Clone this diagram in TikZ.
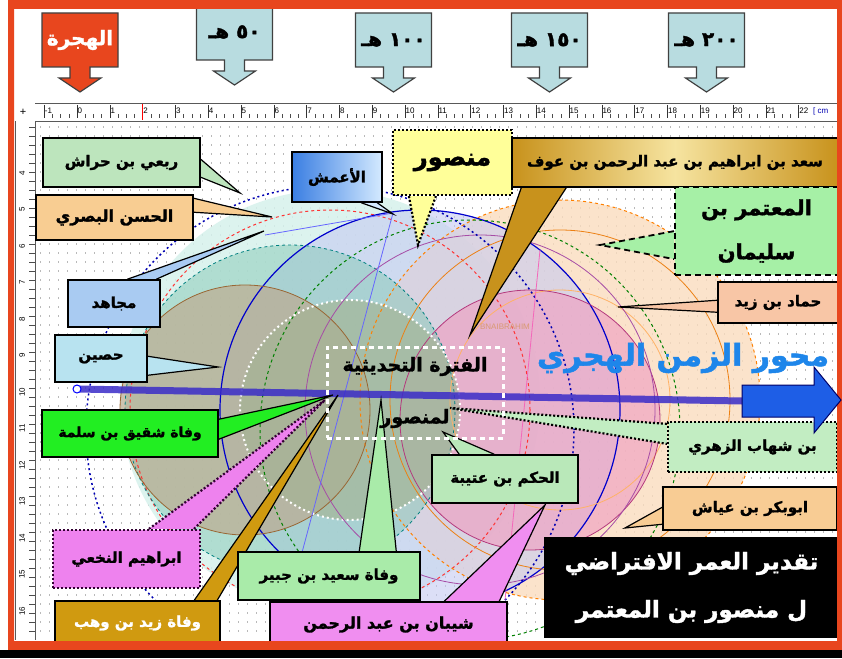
\documentclass[tikz,border=0pt]{standalone}
\usepackage{fontspec}
\setmainfont{Liberation Sans}
\newfontfamily\arfont[Script=Arabic, BoldFeatures={FakeBold=1.6}]{DejaVu Sans}
\TeXXeTstate=1
\usetikzlibrary{calc}
\pgfdeclarelayer{bg}
\pgfdeclarelayer{wedge}
\pgfsetlayers{bg,wedge,main}
\newcommand{\AR}[1]{{\arfont\bfseries\beginR #1\endR}}
\definecolor{framered}{HTML}{E8461E}
\definecolor{hjblue}{HTML}{B8DCE0}
\definecolor{cRabi}{HTML}{BDE5BD}
\definecolor{cHasan}{HTML}{F8CD92}
\definecolor{cMuj}{HTML}{A9CBF2}
\definecolor{cHus}{HTML}{B8E3F0}
\definecolor{cShaq}{HTML}{22EE22}
\definecolor{cNakh}{HTML}{EE82EE}
\definecolor{cZayd}{HTML}{D09A10}
\definecolor{cSaeed}{HTML}{A9EBA9}
\definecolor{cShay}{HTML}{F08EF0}
\definecolor{cHakam}{HTML}{B9E8B9}
\definecolor{cZuhri}{HTML}{C2EDC2}
\definecolor{cAbu}{HTML}{F8CC94}
\definecolor{cMansur}{HTML}{FFFF99}
\definecolor{cSaadE}{HTML}{C8921C}
\definecolor{cSaadM}{HTML}{F6E4A0}
\definecolor{cMut}{HTML}{A6F0A6}
\definecolor{cHam}{HTML}{F8C6A6}
\definecolor{cAmL}{HTML}{3A7EE2}
\definecolor{cAmR}{HTML}{D4EAFF}
\definecolor{cMehwar}{HTML}{1E86EA}
\definecolor{cBigArrow}{HTML}{1E5EE6}
\definecolor{cAxis}{HTML}{3A2CC8}
\definecolor{cPale}{HTML}{D6F1EC}
\definecolor{cPeach}{HTML}{FBDDBF}
\definecolor{cLav}{HTML}{C6CAF2}
\definecolor{cPink}{HTML}{EFA0C2}
\definecolor{cTeal}{HTML}{86C9B6}
\definecolor{cTan}{HTML}{C29E7E}
\definecolor{cGG}{HTML}{A3B393}
\newcommand{\hjarrow}[7]{%
  \draw[hjline, fill=#5] (#2-38,#3) -- (#2+38,#3) -- (#2+38,#4) -- (#2+10,#4) -- (#2+10,#4+11) -- (#2+21,#4+11) -- (#2,#4+25) -- (#2-21,#4+11) -- (#2-10,#4+11) -- (#2-10,#4) -- (#2-38,#4) -- cycle;
  \node[text=#7, inner sep=0pt] (#1) at (#2,{(#3+#4)/2}) {#6};}
\begin{document}
\begin{tikzpicture}[x=1pt,y=-1pt,
  lbl/.style={draw=black, line width=1.5pt, inner sep=2pt, align=center, font=\fontsize{15}{18}\selectfont},
  wdg/.style={draw=black, line width=1.2pt, line join=miter},
  dotb/.style={dash pattern=on 2pt off 2pt, line width=2.2pt},
  dashb/.style={dash pattern=on 6pt off 4pt, line width=1.8pt},
  griddots/.style={gray!55, line width=1.1pt, dash pattern=on 1.1pt off 7.9pt},
  hjline/.style={draw=black!75, line width=1.2pt, line join=miter}]
\useasboundingbox (0,0) rectangle (842,658);

\begin{pgfonlayer}{bg}
\fill[white] (0,0) rectangle (842,658);
\foreach \yy in {127,136,...,636} \draw[griddots] (40,\yy) -- (836,\yy);
\begin{scope}
\clip (36,121) rectangle (837,640);
\fill[cPale, fill opacity=.85] (330,400) circle[radius=210pt];
\fill[cPeach, fill opacity=.8] (560,400) circle[radius=200pt];
\fill[cLav, fill opacity=.6] (420,410) circle[radius=200pt];
\fill[cPink, fill opacity=.65] (530,420) circle[radius=130pt];
\fill[cTeal, fill opacity=.5] (290,410) circle[radius=165pt];
\fill[cTan, fill opacity=.55] (245,410) circle[radius=125pt];
\fill[cGG, fill opacity=.65] (350,410) circle[radius=110pt];
\draw[red!80, dashed, line width=1pt] (330,410) circle[radius=200pt];
\draw[blue!80!black, line width=1.2pt] (420,410) circle[radius=200pt];
\draw[orange, dashed, line width=1pt] (560,400) circle[radius=200pt];
\draw[orange!70!brown, line width=.8pt] (560,400) circle[radius=170pt];
\draw[orange!60, line width=.8pt] (560,400) circle[radius=110pt];
\draw[green!50!black, dashed, line width=1pt] (470,430) circle[radius=210pt];
\draw[magenta!70!black, line width=.8pt] (530,420) circle[radius=130pt];
\draw[teal, dashed, line width=.8pt] (290,410) circle[radius=165pt];
\draw[brown!80!black, line width=.8pt] (245,410) circle[radius=125pt];
\draw[white, line width=2pt, dash pattern=on 2pt off 3pt] (350,410) circle[radius=110pt];
\draw[violet!70, line width=.8pt] (480,410) circle[radius=175pt];
\draw[blue!70!black, line width=1.5pt, dash pattern=on 2pt off 3pt] (330,430) circle[radius=244pt];
\draw[blue!60, line width=.8pt] (393,213) -- (300,560);
\draw[blue!60, line width=.8pt] (393,213) -- (265,235);
\draw[magenta!60, line width=.8pt] (540,250) -- (505,600);
\end{scope}
\node[text=brown!60!pink, font=\fontsize{8}{9}\selectfont] (bnai) at (505,327) {BNAIBRAHIM};
\coordinate (axL) at (77,389);
\coordinate (axR) at (742,401);
\draw[line width=7pt, cAxis, opacity=.85] (axL) -- (axR);
\filldraw[fill=white, draw=blue, line width=1pt] (axL) circle[radius=4pt];
\end{pgfonlayer}

% top ruler
\fill[white] (35,103) rectangle (838,121);
\draw[gray!70!black, line width=.8pt] (35,103) -- (838,103);
\draw[gray!70!black, line width=.8pt] (35,121) -- (838,121);
\foreach \n in {-1,...,22}{
  \pgfmathsetmacro\xx{77+\n*32.8}
  \draw[black!80, line width=.6pt] (\xx,105) -- (\xx,118);
  \node[anchor=west, inner sep=.5pt, font=\fontsize{8}{9}\selectfont] (rn\n) at (\xx,111) {\n};
}
\foreach \n in {-1,...,21}{
  \foreach \k in {1,2,3}{
    \pgfmathsetmacro\xx{77+\n*32.8+\k*8.2}
    \draw[black!70, line width=.5pt] (\xx,114) -- (\xx,118);
  }
}
\draw[red, line width=.8pt] (142.6,104) -- (142.6,120);
\node[anchor=west, inner sep=1pt, fill=white, text=blue!70!black, font=\fontsize{8}{9}\selectfont] (cm) at (812,111) {[ cm};
\node[font=\fontsize{11}{11}\selectfont] (corner) at (23,112) {+};
% left ruler
\fill[white] (15,121) rectangle (35,640);
\draw[gray!70!black, line width=.8pt] (35,121) -- (35,640);
\draw[gray!70!black, line width=.8pt] (15,121) -- (15,640);
\foreach \yy in {127,136,...,636} \draw[black!70, line width=.5pt] (29,\yy) -- (35,\yy);
\foreach \n in {4,...,16}{
  \pgfmathsetmacro\yy{173+(\n-4)*36.5}
  \node[rotate=90, inner sep=.5pt, font=\fontsize{8}{9}\selectfont] (vn\n) at (22,\yy) {\n};
}

% top arrows
\hjarrow{hijra}{80}{13}{67}{framered}{\fontsize{20}{24}\selectfont\AR{الهجرة}}{white}
\hjarrow{h50}{234.5}{4}{60}{hjblue}{\fontsize{20}{24}\selectfont\AR{٥٠ هـ}}{black}
\hjarrow{h100}{393.5}{13}{67}{hjblue}{\fontsize{20}{24}\selectfont\AR{١٠٠ هـ}}{black}
\hjarrow{h150}{549.5}{13}{67}{hjblue}{\fontsize{20}{24}\selectfont\AR{١٥٠ هـ}}{black}
\hjarrow{h200}{706.5}{13}{67}{hjblue}{\fontsize{20}{24}\selectfont\AR{٢٠٠ هـ}}{black}

% label boxes
\node[lbl, fill=cRabi, minimum width=157pt, minimum height=49pt] (rabi) at (121.5,162.5) {\AR{ربعي بن حراش}};
\node[lbl, fill=cHasan, minimum width=157pt, minimum height=45pt, font=\fontsize{16}{19}\selectfont] (hasan) at (114.5,217.5) {\AR{الحسن البصري}};
\node[lbl, fill=cMuj, minimum width=92pt, minimum height=47pt] (muj) at (114,303.5) {\AR{مجاهد}};
\node[lbl, fill=cHus, minimum width=92pt, minimum height=47pt] (hus) at (101,358.5) {\AR{حصين}};
\node[lbl, fill=cShaq, minimum width=176pt, minimum height=47pt, font=\fontsize{14}{17}\selectfont] (shaq) at (130,433.5) {\AR{وفاة شقيق بن سلمة}};
\node[lbl, dotb, draw=violet!40!black, fill=cNakh, minimum width=147pt, minimum height=58pt] (nakh) at (126.5,559) {\AR{ابراهيم النخعي}};
\node[lbl, fill=cZayd, text=white, minimum width=165pt, minimum height=44pt] (zayd) at (137.5,623) {\AR{وفاة زيد بن وهب}};
\node[lbl, fill=cSaeed, minimum width=182pt, minimum height=48pt] (saeed) at (329,576) {\AR{وفاة سعيد بن جبير}};
\node[lbl, fill=cShay, minimum width=237pt, minimum height=45pt, font=\fontsize{16}{19}\selectfont] (shay) at (388.5,624.5) {\AR{شيبان بن عبد الرحمن}};
\node[lbl, fill=cHakam, minimum width=146pt, minimum height=48pt] (hakam) at (505,479) {\AR{الحكم بن عتيبة}};
\node[lbl, dotb, fill=cZuhri, minimum width=169pt, minimum height=50pt] (zuhri) at (752.5,447) {\AR{بن شهاب الزهري}};
\node[lbl, fill=cAbu, minimum width=174pt, minimum height=43pt] (abu) at (750,508.5) {\AR{ابوبكر بن عياش}};
\node[lbl, draw=white, line width=3pt, dash pattern=on 5pt off 4pt, minimum width=176pt, minimum height=91pt, font=\fontsize{19}{52}\selectfont] (fatra) at (415,392.5) {\AR{الفترة التحديثية}\\\AR{لمنصور}};
\node[lbl, left color=cAmL, right color=cAmR, minimum width=90pt, minimum height=50pt] (amash) at (337,177) {\AR{الأعمش}};
\node[lbl, dotb, fill=cMansur, minimum width=119pt, minimum height=65pt, font=\fontsize{24}{28}\selectfont] (mansur) at (452.5,162.5) {\AR{منصور}};
\node[lbl, left color=cSaadE, right color=cSaadE, middle color=cSaadM, minimum width=326pt, minimum height=49pt, font=\fontsize{15}{18}\selectfont] (saad) at (675,162.5) {\AR{سعد بن ابراهيم بن عبد الرحمن بن عوف}};
\node[lbl, dashb, fill=cMut, minimum width=163pt, minimum height=88pt, font=\fontsize{21}{44}\selectfont] (mut) at (756.5,231) {\AR{المعتمر بن}\\\AR{سليمان}};
\node[lbl, fill=cHam, minimum width=120pt, minimum height=41pt] (ham) at (778,302.5) {\AR{حماد بن زيد}};
\node[lbl, fill=black, text=white, minimum width=293pt, minimum height=99pt, font=\fontsize{23}{48}\selectfont] (est) at (691.5,587.5) {\AR{تقدير العمر الافتراضي}\\\AR{ل منصور بن المعتمر}};
\node[text=cMehwar, font=\fontsize{30}{36}\selectfont] (mehwar) at (683,358) {\AR{محور الزمن الهجري}};

% pointer tips
\coordinate (tRabi) at (240,193);
\coordinate (tHasan) at (272,217);
\coordinate (tMuj) at (264,231);
\coordinate (tHus) at (218,367);
\coordinate (tShaq) at (333,395);
\coordinate (tNakh) at (325,400);
\coordinate (tZayd) at (338,395);
\coordinate (tSaeed) at (381,400);
\coordinate (tShay) at (545,505);
\coordinate (tHakam) at (443,432);
\coordinate (tZuhri) at (450,408);
\coordinate (tAbu) at (625,528);
\coordinate (tAmash) at (393,214);
\coordinate (tMansur) at (418,245);
\coordinate (tSaad) at (470,335);
\coordinate (tMut) at (600,245);
\coordinate (tHam) at (618,307);

\begin{pgfonlayer}{wedge}
\path[wdg, fill=cRabi] ($(rabi.north east)+(0,22)$) -- (tRabi) -- ($(rabi.north east)+(0,40)$);
\path[wdg, fill=cHasan] ($(hasan.north east)+(0,4)$) -- (tHasan) -- ($(hasan.north east)+(0,18)$);
\path[wdg, fill=cMuj] ($(muj.north west)+(60,0)$) -- (tMuj) -- ($(muj.north west)+(89,0)$);
\path[wdg, fill=cHus] ($(hus.north east)+(0,22)$) -- (tHus) -- ($(hus.north east)+(0,41)$);
\path[wdg, fill=cShaq] ($(shaq.north east)+(0,10)$) -- (tShaq) -- ($(shaq.north east)+(0,30)$);
\path[wdg, dotb, draw=violet!40!black, fill=cNakh] ($(nakh.north west)+(97,0)$) -- (tNakh) -- ($(nakh.north west)+(142,0)$);
\path[wdg, fill=cZayd] ($(zayd.north west)+(140,0)$) -- (tZayd) -- ($(zayd.north west)+(163,0)$);
\path[wdg, fill=cSaeed] ($(saeed.north west)+(122,0)$) -- (tSaeed) -- ($(saeed.north west)+(159,0)$);
\path[wdg, fill=cShay] ($(shay.north west)+(175,0)$) -- (tShay) -- ($(shay.north west)+(230,0)$);
\path[wdg, fill=cHakam] ($(hakam.north west)+(28,0)$) -- (tHakam) -- ($(hakam.north west)+(63,0)$);
\path[wdg, dotb, fill=cZuhri] ($(zuhri.north west)+(0,3)$) -- (tZuhri) -- ($(zuhri.north west)+(0,23)$);
\path[wdg, fill=cAbu] ($(abu.north west)+(0,21)$) -- (tAbu) -- ($(abu.north west)+(0,38)$);
\path[wdg, fill=cAmR] ($(amash.south west)+(70,0)$) -- (tAmash) -- ($(amash.south west)+(86,0)$);
\path[wdg, dotb, fill=cMansur] ($(mansur.south west)+(17,0)$) -- (tMansur) -- ($(mansur.south west)+(44,0)$);
\path[wdg, fill=cSaadE] ($(saad.south west)+(10,0)$) -- (tSaad) -- ($(saad.south west)+(55,0)$);
\path[wdg, dashb, fill=cMut] ($(mut.north west)+(0,45)$) -- (tMut) -- ($(mut.north west)+(0,73)$);
\path[wdg, fill=cHam] ($(ham.north west)+(0,19)$) -- (tHam) -- ($(ham.north west)+(0,31)$);
\end{pgfonlayer}

% frame
\fill[framered, even odd rule] (8,0) rectangle (842,650) (14,9) rectangle (837,641);
\fill[black] (0,650) rectangle (842,658);
% big arrow of the axis
\draw[fill=cBigArrow, draw=blue!40!black, line width=1pt] (axR) -- ++(0,-16) -- ++(72,0) -- ++(0,-18) -- (841,400) -- (814,433) -- (814,417) -- (742,417) -- cycle;
\end{tikzpicture}
\end{document}
